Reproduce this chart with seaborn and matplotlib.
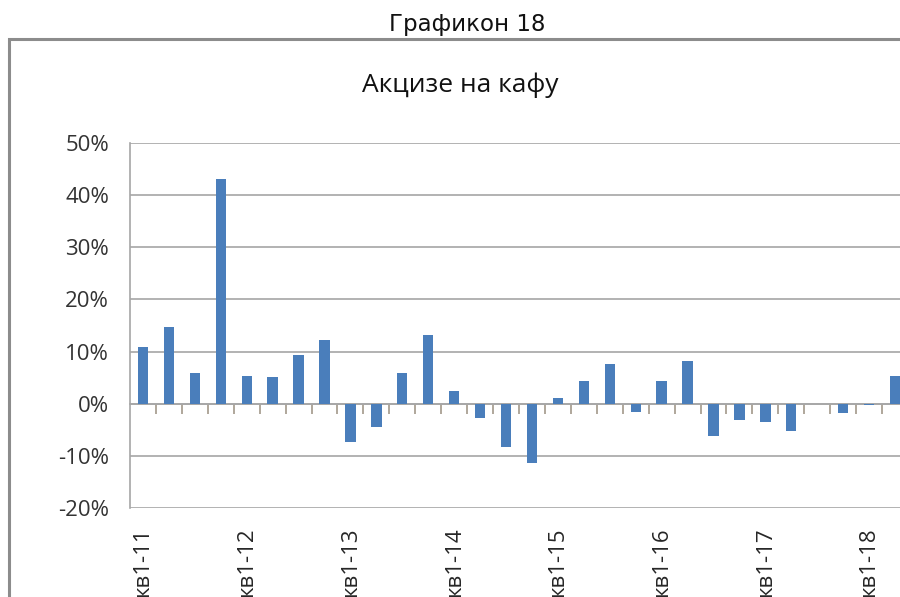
import numpy as np
import pandas as pd
import matplotlib
matplotlib.use("Agg")
import matplotlib.pyplot as plt
import matplotlib.patches as patches
import seaborn as sns

# quarterly growth of coffee excise, %
quarters = ["кв1-11", "кв2-11", "кв3-11", "кв4-11",
            "кв1-12", "кв2-12", "кв3-12", "кв4-12",
            "кв1-13", "кв2-13", "кв3-13", "кв4-13",
            "кв1-14", "кв2-14", "кв3-14", "кв4-14",
            "кв1-15", "кв2-15", "кв3-15", "кв4-15",
            "кв1-16", "кв2-16", "кв3-16", "кв4-16",
            "кв1-17", "кв2-17", "кв3-17", "кв4-17",
            "кв1-18", "кв2-18"]
values = [10.8, 14.7, 5.9, 43.1, 5.3, 5.1, 9.3, 12.3,
          -7.3, -4.5, 5.9, 13.2, 2.5, -2.7, -8.3, -11.3,
          1.1, 4.4, 7.6, -1.6, 4.4, 8.1, -6.2, -3.2,
          -3.5, -5.3, 0.0, -1.8, -0.3, 5.4]
shown_labels = ["кв1-11", "кв1-12", "кв1-13", "кв1-14",
                "кв1-15", "кв1-16", "кв1-17", "кв1-18"]
y_ticks = [-20, -10, 0, 10, 20, 30, 40, 50]

df = pd.DataFrame({"quarter": quarters, "value": values})

sns.set_style("white")
plt.rcParams['font.family'] = ['Open Sans', 'DejaVu Sans']

fig = plt.figure(figsize=(9, 5.97), dpi=100)
ax = fig.add_axes([130/900, (597-508)/597, 778/900, 365/597])

sns.barplot(data=df, x="quarter", y="value", order=quarters, color="#4a7ebb",
            width=0.4, saturation=1, linewidth=0, ax=ax)

grid_c = "#a6a6a6"
ax.set_ylim(-20, 50)
ax.set_xlim(-0.5, len(quarters) - 0.5)
ax.set_yticks(y_ticks)
ax.set_yticklabels([f"{v}%" for v in y_ticks], fontsize=16, color="#333333")
ax.yaxis.grid(True, color=grid_c, linewidth=1.2)
ax.set_axisbelow(True)
ax.tick_params(axis='y', length=8, color=grid_c, direction='out', pad=7)

idx = [quarters.index(l) for l in shown_labels]
ax.set_xticks(idx)
ax.set_xticklabels(shown_labels, rotation=90, fontsize=16, color="#262626")
ax.tick_params(axis='x', length=0, pad=14)
ax.set_xlabel("")
ax.set_ylabel("")

for s in ["top", "right", "bottom"]:
    ax.spines[s].set_visible(False)
ax.spines["left"].set_color(grid_c)
ax.spines["left"].set_linewidth(1.2)

# category axis running along the zero line
sec = ax.secondary_xaxis(20/70)
sec.set_xticks(np.arange(len(quarters)) + 0.5)
sec.set_xticklabels([])
sec.tick_params(axis='x', length=7, width=1.1, color="#9a9080", direction='out')
sec.spines["bottom"].set_color(grid_c)
sec.spines["bottom"].set_linewidth(1.2)

# outer frame of the chart
fig.patches.append(patches.Rectangle((9/900, -0.2), 1.2, 0.2 + (597-39)/597,
                                     transform=fig.transFigure, fill=False,
                                     edgecolor="#8c8c8c", linewidth=2.2))

fig.text(467/900, 1 - 25/597, "Графикон 18", ha="center", va="center",
         fontsize=16.5, family=["DejaVu Sans"], color="#111111")
fig.text(460/900, 1 - 85/597, "Акцизе на кафу", ha="center", va="center",
         fontsize=19, color="#111111")

fig.savefig("out.png", dpi=100)
